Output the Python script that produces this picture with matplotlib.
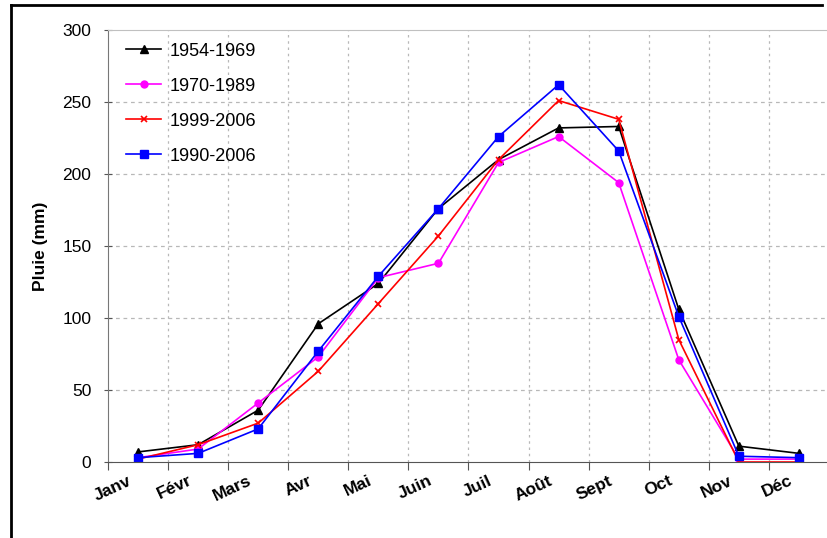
import matplotlib
matplotlib.use('Agg')
import matplotlib.pyplot as plt
from matplotlib.lines import Line2D

plt.rcParams['font.family'] = ['Liberation Sans', 'DejaVu Sans']

# Monthly rainfall (mm) per period
months = ['Janv', 'Févr', 'Mars', 'Avr', 'Mai', 'Juin',
          'Juil', 'Août', 'Sept', 'Oct', 'Nov', 'Déc']
rain_1954_1969 = [7, 12, 36, 96, 124, 176, 210, 232, 233, 106, 11, 6]
rain_1970_1989 = [3, 9, 41, 73, 128, 138, 208, 226, 194, 71, 2, 2]
rain_1999_2006 = [2, 12, 27, 63, 110, 157, 210, 251, 238, 85, 0, 0]
rain_1990_2006 = [3, 6, 23, 77, 129, 176, 226, 262, 216, 101, 4, 3]
y_ticks = [0, 50, 100, 150, 200, 250, 300]

fig = plt.figure(figsize=(8.28, 5.38), dpi=100)

# Partial black frame around the picture (left and top)
fig.add_artist(Line2D([11 / 828, 11 / 828], [0, 1 - 5 / 538], color='black', lw=2,
                      transform=fig.transFigure))
fig.add_artist(Line2D([11 / 828, 822 / 828], [1 - 5 / 538, 1 - 5 / 538], color='black', lw=2,
                      transform=fig.transFigure))

ax = fig.add_axes([108 / 828, 76 / 538, 721 / 828, 432 / 538])

x = [i + 0.5 for i in range(len(months))]
ax.plot(x, rain_1954_1969, color='black', marker='^', markersize=6, lw=1.2, label='1954-1969')
ax.plot(x, rain_1970_1989, color='#ff00ff', marker='o', markersize=5, lw=1.2, label='1970-1989')
ax.plot(x, rain_1999_2006, color='red', marker='x', markersize=5, mew=1.2, lw=1.2, label='1999-2006')
ax.plot(x, rain_1990_2006, color='blue', marker='s', markersize=6, lw=1.2, label='1990-2006')

ax.set_xlim(0, 12)
ax.set_ylim(0, 300)
ax.set_yticks(y_ticks)
ax.set_xticks(range(13))
ax.set_xticklabels([])
# rotated labels end a little left of each month's centre
label_pos = [v - 0.17 for v in x]
ax.set_xticks(label_pos, minor=True)
ax.set_xticklabels(months, minor=True, rotation=25, fontweight='bold', fontsize=12.5,
                   ha='right', va='top', rotation_mode='anchor')
ax.tick_params(axis='x', which='minor', length=0, pad=8)
ax.tick_params(axis='x', which='major', length=6, color='#555555', direction='out')
ax.tick_params(axis='y', length=6, color='#555555', direction='inout', labelsize=12.5, pad=9)

for i in range(1, 12):
    ax.axvline(i, color='#b8b8b8', ls=(0, (2, 3)), lw=0.9, zorder=0)
for v in y_ticks[1:-1]:
    ax.axhline(v, color='#b8b8b8', ls=(0, (3, 3)), lw=0.9, zorder=0)

ax.spines['left'].set_color('#777777')
ax.spines['bottom'].set_color('#555555')
ax.spines['top'].set_color('#c0c0c0')
ax.spines['right'].set_visible(False)

ax.set_ylabel('Pluie (mm)', fontweight='bold', fontsize=12.5, labelpad=10)

ax.legend(loc='upper left', bbox_to_anchor=(0.008, 1.0), frameon=False, fontsize=13,
          handlelength=1.9, labelspacing=1.0, borderaxespad=0.3, handletextpad=0.5)

fig.savefig('out.png', dpi=100)
